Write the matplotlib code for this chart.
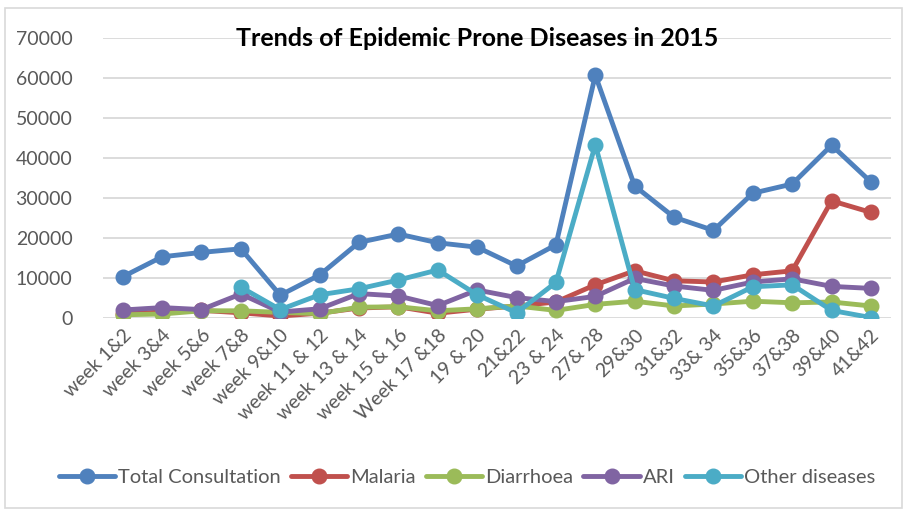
import numpy as np
import matplotlib
matplotlib.use("Agg")
import matplotlib.pyplot as plt
from matplotlib.patches import Rectangle

plt.rcParams['font.family'] = ['Lato', 'DejaVu Sans']

weeks = ["week 1&2", "week 3&4", "week 5&6", "week 7&8", "week 9&10",
         "week 11 & 12", "week 13 & 14", "week 15 & 16", "Week 17 &18",
         "19 & 20", "21&22", "23 & 24", "27& 28", "29&30", "31&32",
         "33& 34", "35&36", "37&38", "39&40", "41&42"]

total_consultation = [10300, 15300, 16400, 17300, 5700, 10750, 18900, 21000,
                      18800, 17700, 13000, 18300, 60700, 33000, 25200,
                      21900, 31200, 33500, 43200, 34000]
malaria = [1000, 1500, 1900, 1300, 500, 1200, 2500, 2800, 1200, 2200,
           3000, 4000, 8300, 11800, 9300, 9000, 10800, 11800, 29300, 26400]
diarrhoea = [800, 1000, 1800, 1800, 1400, 1100, 2700, 2800, 1800, 2300,
             3000, 1900, 3400, 4200, 3000, 3500, 4200, 3800, 4000, 3000]
ari = [2000, 2600, 2100, 6000, 1500, 2300, 6100, 5500, 3100, 7000,
       5100, 4100, 5400, 9900, 8000, 6900, 9000, 9800, 7900, 7400]
other_diseases = [np.nan, np.nan, np.nan, 7700, 2100, 5800, 7300, 9500,
                  12000, 5800, 1300, 8900, 43300, 7100, 4900, 3000,
                  7800, 8300, 1900, 100]

series = [
    ("Total Consultation", total_consultation, "#4F81BD"),
    ("Malaria", malaria, "#C0504D"),
    ("Diarrhoea", diarrhoea, "#9BBB59"),
    ("ARI", ari, "#8064A2"),
    ("Other diseases", other_diseases, "#4BACC6"),
]

fig = plt.figure(figsize=(9.07, 5.11), dpi=100)
fig.patches.append(Rectangle((0.006, 0.006), 0.988, 0.978, transform=fig.transFigure,
                             fill=False, edgecolor="#D9D9D9", linewidth=1.2))

ax = fig.add_axes([0.1136, 0.3777, 0.8684, 0.5479])
x = np.arange(len(weeks))
for name, vals, color in series:
    ax.plot(x, vals, color=color, linewidth=3.5, marker='o', markersize=10.5,
            label=name, solid_capstyle='round', solid_joinstyle='round')

ax.set_xlim(-0.5, len(weeks) - 0.5)
ax.set_ylim(0, 70000)
ax.set_yticks(np.arange(0, 70001, 10000))
ax.yaxis.grid(True, color="#D9D9D9", linewidth=1.3)
ax.set_axisbelow(True)
for s in ax.spines.values():
    s.set_visible(False)
ax.tick_params(axis='both', length=0, colors="#595959", labelsize=14)
ax.tick_params(axis='y', pad=22)
ax.set_xticks(x)
ax.set_xticklabels(weeks, rotation=45, ha='right', rotation_mode='anchor')
ax.tick_params(axis='x', pad=6)

fig.text(0.526, 0.925, "Trends of Epidemic Prone Diseases in 2015", ha='center',
         va='center', fontsize=18, fontweight='bold', color='black')

leg = fig.legend(loc='center', bbox_to_anchor=(0.515, 0.065), ncol=5, frameon=False,
                 fontsize=14.5, handlelength=2.8, columnspacing=0.5,
                 handletextpad=0.15, labelcolor="#595959")

fig.savefig("out.png", dpi=100)
